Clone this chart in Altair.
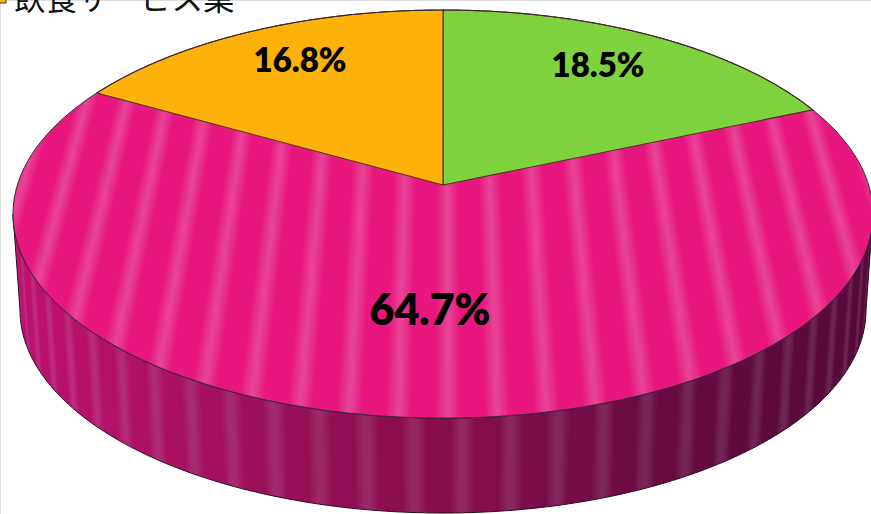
import math
import altair as alt
import pandas as pd

# Pie shares, clockwise from twelve o'clock
NAMES = ["その他", "製造業", "飲食サービス業"]
SHARES = [18.5, 64.7, 16.8]
COLORS = ["#7ed23e", "#e8177f", "#fdb10b"]
LABEL_TEXT = ["18.5%", "64.7%", "16.8%"]
LEGEND_TEXT = "飲食サービス業"

# Perspective disc: pixels relative to the pie centre, y pointing up
W, H = 871, 514
CX, CY = 443, 185
K = 0.1423
TOP_RX, TOP_RY = 425.6, 199.9
BASE_RX, BASE_RY, BASE_DROP = 418.7, 199.0, 96.0


def top_point(u, v):
    d = 1 + K * v
    return TOP_RX * u / d, TOP_RY * v / d


def base_point(u, v):
    d = 1 + K * v
    return BASE_RX * u / d, BASE_RY * v / d - BASE_DROP


def polygon_rows(pts, shape):
    closed = list(pts) + [pts[0]]
    return [{"x": x, "y": y, "i": i, "shape": shape} for i, (x, y) in enumerate(closed)]


def frange(a, b, n):
    return [a + (b - a) * j / n for j in range(n + 1)]


def wedge(start, share):
    # Share-sized sector; angles run clockwise from the top of the disc
    a0 = start / 100 * 2 * math.pi
    a1 = (start + share) / 100 * 2 * math.pi
    pts = [top_point(math.sin(a), math.cos(a)) for a in frange(a0, a1, 160)]
    return [(0.0, 0.0)] + pts


def disc_band(u0, half):
    # Stripe of constant world u, trimmed by the disc outline
    us = frange(max(u0 - half, -1), min(u0 + half, 1), 8)
    upper = [top_point(u, math.sqrt(max(1 - u * u, 0))) for u in us]
    lower = [top_point(u, -math.sqrt(max(1 - u * u, 0))) for u in reversed(us)]
    return upper + lower


def wall_band(a0, half):
    # Stripe on the rim wall, spaced by angle around the front of the disc
    lo, hi = max(a0 - half, -LIMIT), min(a0 + half, LIMIT)
    angles = frange(lo, hi, 6)
    upper = [top_point(math.sin(a), -math.cos(a)) for a in angles]
    lower = [base_point(math.sin(a), -math.cos(a)) for a in reversed(angles)]
    return upper + lower


# Angle from the front of the disc to its widest point on screen
LIMIT = math.pi / 2 - math.asin(K)

# Sectors
starts = [sum(SHARES[:j]) for j in range(len(SHARES))]
wedges = [wedge(s, v) for s, v in zip(starts, SHARES)]

# Side wall between the front of the top rim and the front of the base rim
front = frange(-LIMIT, LIMIT, 240)
wall_pts = [top_point(math.sin(a), -math.cos(a)) for a in front] + [
    base_point(math.sin(a), -math.cos(a)) for a in reversed(front)
]
wall_df = pd.DataFrame(polygon_rows(wall_pts, 0))

full = frange(0, 2 * math.pi, 360)
rim_df = pd.DataFrame(
    [
        {"x": x, "y": y, "i": i, "shape": 0}
        for i, (x, y) in enumerate(top_point(math.sin(a), math.cos(a)) for a in full)
    ]
)

X = alt.X("x:Q", axis=None, scale=alt.Scale(domain=[-CX, W - CX], range=[0, W], nice=False, zero=False))
Y = alt.Y("y:Q", axis=None, scale=alt.Scale(domain=[CY - H, CY], range=[H, 0], nice=False, zero=False))


def shapes(df, **mark):
    return (
        alt.Chart(df)
        .mark_line(clip=False, interpolate="linear", **mark)
        .encode(x=X, y=Y, detail="shape:N", order="i:Q")
    )


wall_fill = alt.LinearGradient(
    gradient="linear",
    x1=0, x2=1, y1=0, y2=0,
    stops=[
        alt.GradientStop(offset=0.0, color="#c01272"),
        alt.GradientStop(offset=0.35, color="#940f55"),
        alt.GradientStop(offset=0.55, color="#820d4c"),
        alt.GradientStop(offset=0.75, color="#680b41"),
        alt.GradientStop(offset=1.0, color="#56083a"),
    ],
)

layers = [shapes(wall_df, fill=wall_fill, strokeWidth=0)]

# Soft wall stripes, built from nested translucent bands
wall_centres = [0.04 + 0.098 * n for n in range(-18, 18)]
for half in (0.023, 0.018, 0.013, 0.008):
    rows = []
    for n, a in enumerate(wall_centres):
        if abs(a) < LIMIT:
            rows += polygon_rows(wall_band(a, half), n)
    layers.append(shapes(pd.DataFrame(rows), fill="#d8b0c8", fillOpacity=0.045, strokeWidth=0))

layers.append(shapes(wall_df, stroke="#2a0a20", strokeWidth=1))

# Pink sector first, with its stripes above it
layers.append(shapes(pd.DataFrame(polygon_rows(wedges[1], 0)), fill=COLORS[1], strokeWidth=0))
stripe_centres = [0.01 + 0.1 * n for n in range(-10, 11)]
for half in (0.024, 0.020, 0.016, 0.012, 0.008, 0.004):
    rows = []
    for n, u in enumerate(stripe_centres):
        rows += polygon_rows(disc_band(u, half), n)
    layers.append(shapes(pd.DataFrame(rows), fill="#ffffff", fillOpacity=0.036, strokeWidth=0))

# Green and orange sectors sit over the stripes
for j in (0, 2):
    layers.append(
        shapes(
            pd.DataFrame(polygon_rows(wedges[j], 0)),
            fill=COLORS[j],
            stroke="#5a2a20",
            strokeWidth=1.1,
        )
    )
layers.append(shapes(rim_df, stroke="#3a2a35", strokeWidth=1))

# Percentage labels
label_df = pd.DataFrame(
    {
        "x": [598 - CX, 430 - CX, 300 - CX],
        "y": [CY - 67, CY - 312, CY - 62],
        "text": LABEL_TEXT,
        "size": [33, 43, 33],
    }
)
layers.append(
    alt.Chart(label_df)
    .mark_text(font="Lato", fontWeight=800, color="#000000", align="center", baseline="middle")
    .encode(x=X, y=Y, text="text:N", size=alt.Size("size:Q", scale=None, legend=None))
)

# Legend entry running off the top edge
layers.append(
    alt.Chart(pd.DataFrame({"t": [LEGEND_TEXT]}))
    .mark_text(font="Noto Sans CJK JP", fontSize=31.5, color="#111111", align="left", baseline="alphabetic")
    .encode(x=alt.value(14), y=alt.value(10), text="t:N")
)
layers.append(
    alt.Chart(pd.DataFrame({"c": [COLORS[2]]}))
    .mark_point(shape="square", filled=True, size=100, color=COLORS[2], stroke="#553311", strokeWidth=1, opacity=1)
    .encode(x=alt.value(1), y=alt.value(-2))
)

chart = (
    alt.layer(*layers)
    .properties(width=W, height=H, padding=0, autosize=alt.AutoSizeParams(type="none"))
    .configure_view(stroke=None)
    .configure(background="#ffffff")
)

chart.save("out.html", embed_options={"renderer": "svg", "actions": False})
